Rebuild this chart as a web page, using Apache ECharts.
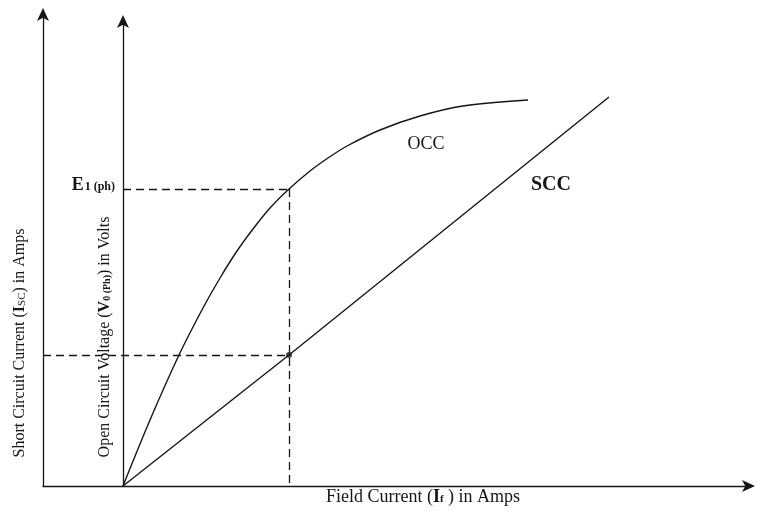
<!DOCTYPE html>
<html>
<head>
<meta charset="utf-8">
<script src="https://cdn.jsdelivr.net/npm/echarts@6/dist/echarts.min.js"></script>
<style>
    html, body { margin: 0; padding: 0; background: #fff; }
    #chart { width: 760px; height: 512px; }
</style>
</head>
<body>
<div id="chart"></div>
<script>
    /*----------  data (arbitrary units)  ----------*/
    var xRange = [-0.80, 6.26];
    var yRange = [0, 4.72];

    // open circuit characteristic
    var occPoints = [
        [0, 0], [0.27, 0.66], [0.56, 1.31], [0.80, 1.78], [0.97, 2.08],
        [1.14, 2.35], [1.30, 2.57], [1.47, 2.78], [1.66, 2.97], [1.87, 3.15],
        [2.05, 3.28], [2.24, 3.40], [2.57, 3.56], [2.97, 3.70], [3.40, 3.80],
        [4.05, 3.86]
    ];

    // short circuit characteristic
    var sccPoints = [[0, 0], [1.66, 1.31], [4.86, 3.89]];

    var operatingPoint = [1.66, 1.31];
    var e1Level = 2.97;

    var ink = '#161616';
    var serif = '"Liberation Serif", "DejaVu Serif", serif';

    var arrowLine = {
        show: true,
        onZero: false,
        symbol: ['none', 'arrow'],
        symbolSize: [9, 13],
        symbolOffset: [0, 6],
        lineStyle: { color: ink, width: 1.3 }
    };

    var chart = echarts.init(document.getElementById('chart'));

    var option = {
        backgroundColor: '#fff',
        animation: false,
        grid: [
            { left: 43, right: 11, top: 14, bottom: 26 },
            { left: 123, width: 20, top: 21, bottom: 26 }
        ],
        xAxis: [{
            type: 'value',
            gridIndex: 0,
            min: xRange[0],
            max: xRange[1],
            axisLine: arrowLine,
            axisTick: { show: false },
            axisLabel: { show: false },
            splitLine: { show: false }
        }, {
            type: 'value',
            gridIndex: 1,
            show: false
        }],
        yAxis: [{
            type: 'value',
            gridIndex: 0,
            min: yRange[0],
            max: yRange[1],
            axisLine: arrowLine,
            axisTick: { show: false },
            axisLabel: { show: false },
            splitLine: { show: false }
        }, {
            type: 'value',
            gridIndex: 1,
            axisLine: arrowLine,
            axisTick: { show: false },
            axisLabel: { show: false },
            splitLine: { show: false }
        }],
        series: [{
            name: 'OCC',
            type: 'line',
            data: occPoints,
            smooth: 0.3,
            symbol: 'none',
            lineStyle: { color: ink, width: 1.4 }
        }, {
            name: 'SCC',
            type: 'line',
            data: sccPoints,
            symbol: 'none',
            lineStyle: { color: ink, width: 1.4 },
            markLine: {
                silent: true,
                symbol: 'none',
                label: { show: false },
                lineStyle: { color: ink, width: 1.3, type: [8, 5] },
                data: [
                    [{ coord: [0, e1Level] }, { coord: [operatingPoint[0], e1Level] }],
                    [{ coord: [operatingPoint[0], e1Level] }, { coord: [operatingPoint[0], 0] }],
                    [{ coord: [xRange[0], operatingPoint[1]] }, { coord: operatingPoint }]
                ]
            }
        }, {
            name: 'point',
            type: 'scatter',
            data: [operatingPoint],
            symbolSize: 6,
            itemStyle: { color: ink }
        }],
        graphic: [{
            type: 'text',
            x: 426, y: 144,
            style: { text: 'OCC', font: '18px ' + serif, fill: ink, align: 'center', verticalAlign: 'middle' }
        }, {
            type: 'text',
            x: 551, y: 185,
            style: { text: 'SCC', font: 'bold 20px ' + serif, fill: ink, align: 'center', verticalAlign: 'middle' }
        }, {
            type: 'text',
            x: 115, y: 185,
            style: {
                text: '{e|E}{s|1 (ph)}',
                align: 'right',
                verticalAlign: 'middle',
                rich: {
                    e: { font: 'bold 18px ' + serif, fill: ink },
                    s: { font: 'bold 12px ' + serif, fill: ink, padding: [4, 0, 0, 1] }
                }
            }
        }, {
            type: 'text',
            x: 423, y: 497,
            style: {
                text: 'Field Current ({b|I}{s|f} ) in Amps',
                font: '18px ' + serif,
                fill: ink,
                align: 'center',
                verticalAlign: 'middle',
                rich: {
                    b: { font: 'bold 18px ' + serif, fill: ink },
                    s: { font: 'bold 11px ' + serif, fill: ink, padding: [5, 0, 0, 0] }
                }
            }
        }, {
            type: 'text',
            x: 20, y: 343,
            rotation: Math.PI / 2,
            style: {
                text: 'Short Circuit Current ({b|I}{s|SC}) in Amps',
                font: '16px ' + serif,
                fill: ink,
                align: 'center',
                verticalAlign: 'middle',
                rich: {
                    b: { font: 'bold 16px ' + serif, fill: ink },
                    s: { font: '11px ' + serif, fill: ink, padding: [4, 0, 0, 0] }
                }
            }
        }, {
            type: 'text',
            x: 105, y: 337,
            rotation: Math.PI / 2,
            style: {
                text: 'Open Circuit Voltage ({b|V}{s|0 (Ph)}) in Volts',
                font: '16px ' + serif,
                fill: ink,
                align: 'center',
                verticalAlign: 'middle',
                rich: {
                    b: { font: 'bold 16px ' + serif, fill: ink },
                    s: { font: 'bold 10px ' + serif, fill: ink, padding: [4, 0, 0, 0] }
                }
            }
        }]
    };

    chart.setOption(option);
</script>
</body>
</html>
